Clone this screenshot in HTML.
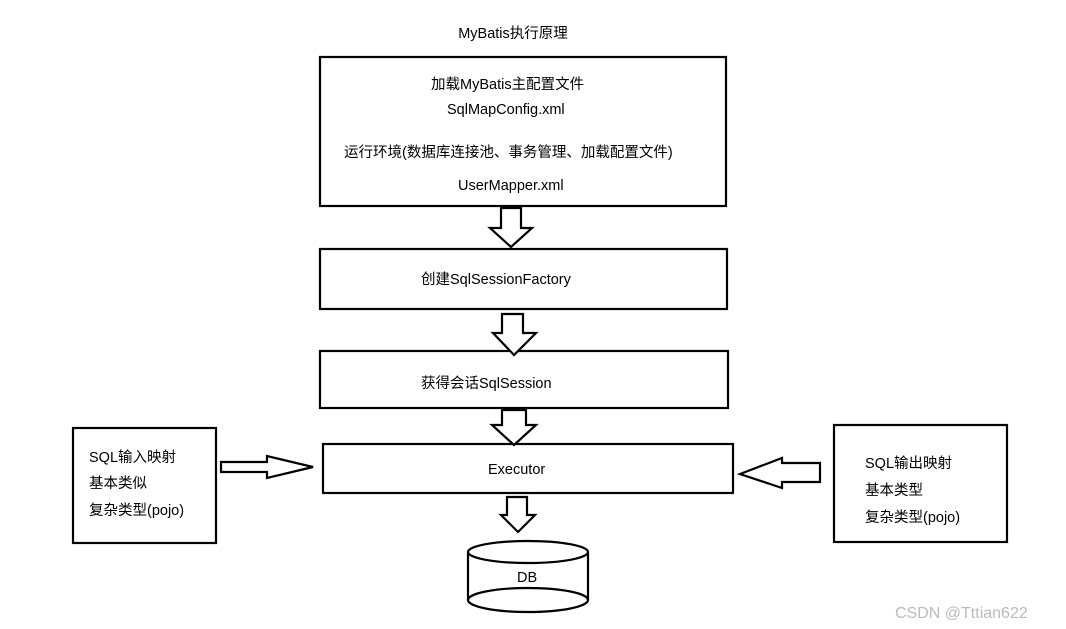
<!DOCTYPE html>
<html><head><meta charset="utf-8"><style>
html,body{margin:0;padding:0;background:#fff;}
svg{display:block;}
text{font-family:"Liberation Sans","Noto Sans CJK SC",sans-serif;font-size:14.5px;fill:#000;}
</style></head><body>
<svg width="1066" height="629" viewBox="0 0 1066 629" xmlns="http://www.w3.org/2000/svg">
<g fill="none" stroke="#000" stroke-width="2.2">
<rect x="320" y="57" width="406" height="149"/>
<rect x="320" y="249" width="407" height="60"/>
<rect x="320" y="351" width="408" height="57"/>
<rect x="323" y="444" width="410" height="49"/>
<rect x="73" y="428" width="143" height="115"/>
<rect x="834" y="425" width="173" height="117"/>
<path d="M501 208 H521 V228 H532 L511 247 L490 228 H501 Z" fill="#fff"/>
<path d="M502 314 H523 V333 H536 L514 355 L493 333 H502 Z" fill="#fff"/>
<path d="M502 410 H526 V425 H536 L514 445 L492 425 H502 Z" fill="#fff"/>
<path d="M507 497 H527 V515 H535 L518 532 L501 515 H507 Z" fill="#fff"/>
<path d="M221 462 H267 V456 L313 467 L267 478 V472 H221 Z" fill="#fff"/>
<path d="M820 463 H782 V458 L740 474 L782 488 V482 H820 Z" fill="#fff"/>
<path d="M468 552 V600 M588 552 V600"/>
<ellipse cx="528" cy="552" rx="60" ry="11" fill="#fff"/>
<path d="M468 600 A60 12 0 0 0 588 600 A60 12 0 0 0 468 600"/>
</g>
<text x="513" y="38" text-anchor="middle">MyBatis执行原理</text>
<text x="431" y="89">加载MyBatis主配置文件</text>
<text x="447" y="114">SqlMapConfig.xml</text>
<text x="344" y="157">运行环境(数据库连接池、事务管理、加载配置文件)</text>
<text x="458" y="190">UserMapper.xml</text>
<text x="421" y="284">创建SqlSessionFactory</text>
<text x="421" y="388">获得会话SqlSession</text>
<text x="488" y="474">Executor</text>
<text x="517" y="582">DB</text>
<text x="89" y="462">SQL输入映射</text>
<text x="89" y="488">基本类似</text>
<text x="89" y="515">复杂类型(pojo)</text>
<text x="865" y="468">SQL输出映射</text>
<text x="865" y="495">基本类型</text>
<text x="865" y="522">复杂类型(pojo)</text>
<text x="895" y="618" style="fill:#bbb;font-size:16px">CSDN @Tttian622</text>
</svg>
</body></html>
